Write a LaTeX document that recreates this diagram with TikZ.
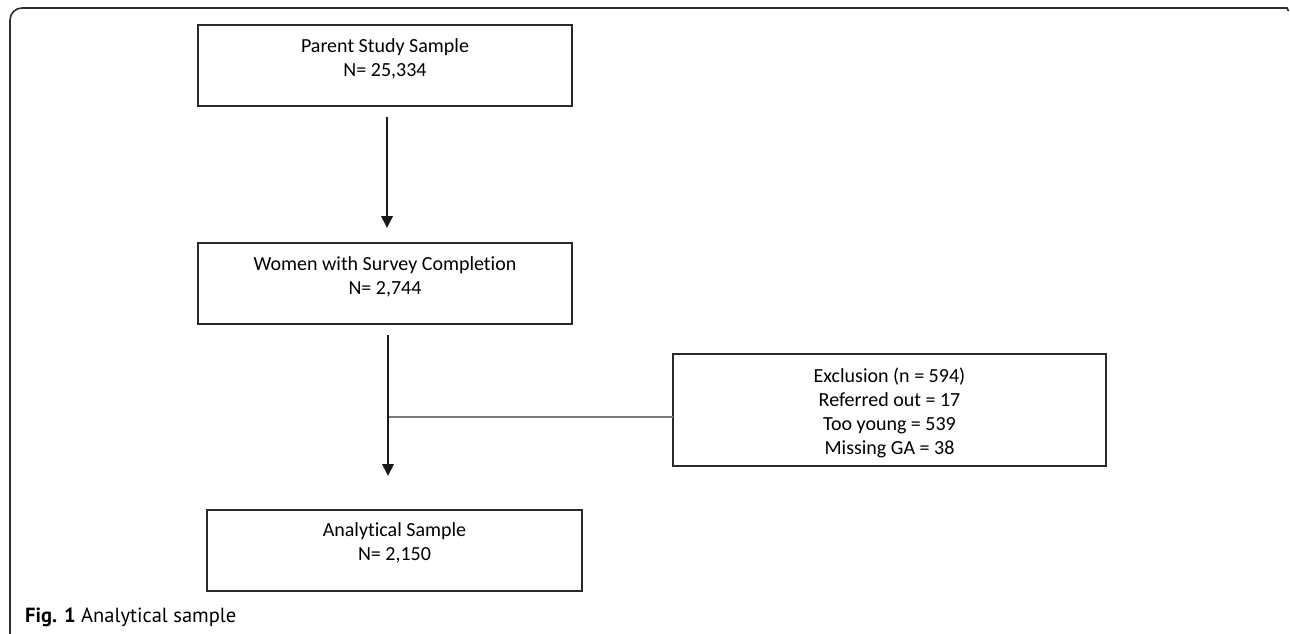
\documentclass[tikz,border=0pt]{standalone}
\usepackage{fontspec}
\setmainfont{Carlito}[Ligatures={NoCommon}]
\newfontfamily\capfont{PT Sans}
\usetikzlibrary{arrows.meta}
\definecolor{boxcol}{HTML}{2A2A2A}
\definecolor{linkcol}{HTML}{7A7A7A}
\definecolor{framecol}{HTML}{2E2E2E}
\tikzset{
  stepbox/.style={draw=boxcol, line width=1.3pt, inner sep=0pt, outer sep=0pt, font=\fontsize{20}{23.8}\selectfont},
  flowarrow/.style={draw=black!90, line width=2pt, -{Triangle[width=11.5pt,length=12pt]}},
  sideline/.style={draw=linkcol, line width=1.4pt},
  framestyle/.style={draw=framecol, line width=1.6pt, rounded corners=12pt},
  captext/.style={anchor=base west, inner sep=0pt, font=\capfont\fontsize{20.5}{24}\selectfont}
}
\newcommand{\boxtext}[4]{\begin{minipage}[c][#2pt][t]{#1pt}\centering\vspace*{#3pt}#4\end{minipage}}
\begin{document}
\begin{tikzpicture}[x=1pt,y=-1pt]
\useasboundingbox (0,0) rectangle (1290,634);
% outer frame
\draw[framestyle] (10,636) -- (10,8) -- (1287,8);
\draw[framecol, line width=1.6pt] (1284,8) -- (1287,8) -- (1288.5,11);
% boxes
\node[stepbox, anchor=north west] (b1) at (198,25) {\boxtext{374}{81}{14}{Parent Study Sample\\N= 25,334}};
\node[stepbox, anchor=north west] (b2) at (198,243) {\boxtext{374}{81}{14}{Women with Survey Completion\\N= 2,744}};
\node[stepbox, anchor=north west] (b3) at (673,354) {\boxtext{433}{112}{14}{Exclusion (n = 594)\\Referred out = 17\\Too young = 539\\Missing GA = 38}};
\node[stepbox, anchor=north west] (b4) at (207,510) {\boxtext{375}{81}{13}{Analytical Sample\\N= 2,150}};
% connectors
\draw[flowarrow] ([xshift=2pt,yshift=-11pt]b1.south) -- ([xshift=2pt,yshift=15pt]b2.north);
\coordinate (a2s) at ([xshift=3pt,yshift=-11pt]b2.south);
\coordinate (j) at (388,417);
\draw[sideline] (j) -- (j -| b3.west);
\draw[flowarrow] (a2s) -- (a2s |- 0,476);
% caption
\node[captext] (cap) at (25,622) {\textbf{Fig. 1} Analytical sample};
\end{tikzpicture}
\end{document}
